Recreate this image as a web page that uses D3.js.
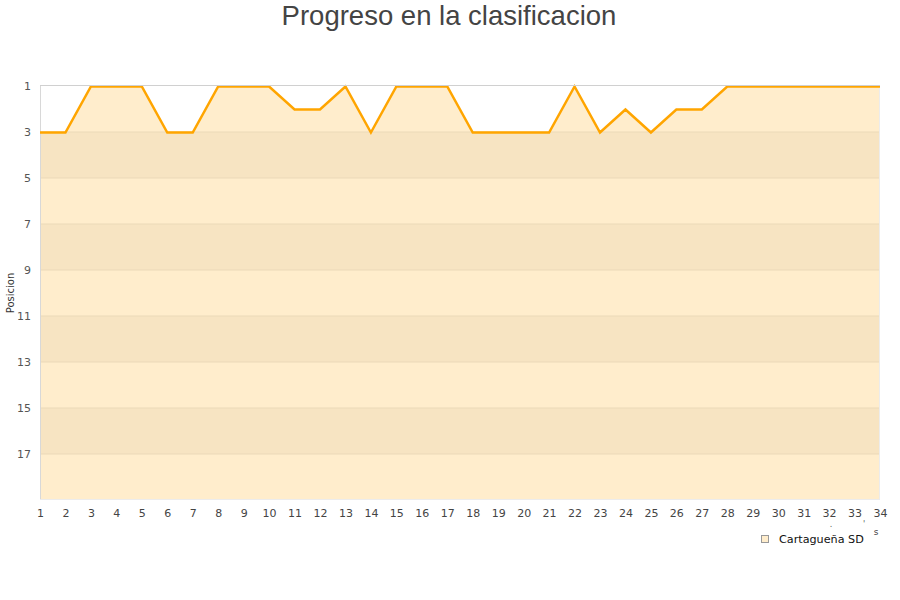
<!DOCTYPE html>
<html><head><meta charset="utf-8">
<script src="https://cdn.jsdelivr.net/npm/d3@7"></script>
<style>body{margin:0;background:#fff;font-family:"DejaVu Sans",sans-serif}</style>
</head><body>
<svg id="c" width="900" height="600"></svg>
<script>
const rounds = d3.range(1, 35);
const positions = [3,3,1,1,1,3,3,1,1,1,2,2,1,3,1,1,1,3,3,3,3,1,3,2,3,2,2,1,1,1,1,1,1,1];
const yTicks = [1,3,5,7,9,11,13,15,17];
const bands = [[3,5],[7,9],[11,13],[15,17]];
const seriesName = "Cartagueña SD";
const title = "Progreso en la clasificacion";
const yTitle = "Posicion";

const svg = d3.select("#c");
const L = 40, R = 880, T = 86, B = 500;
const x = d3.scaleLinear().domain([1, 34]).range([L, R]);
const y = d3.scaleLinear().domain([1, 19]).range([T, B]);
const data = rounds.map((r, i) => ({r, p: positions[i]}));

svg.append("text").attr("x", 449).attr("y", 25).attr("text-anchor", "middle")
  .attr("font-family", "Liberation Sans, Arial, sans-serif").attr("font-size", 27.5).attr("fill", "#444").text(title);

// area
svg.append("path").datum(data)
  .attr("d", d3.area().x(d => x(d.r)).y0(y(19)).y1(d => y(d.p)))
  .attr("fill", "#FFEDCC");
// bands
svg.selectAll(".band").data(bands).join("rect")
  .attr("x", L).attr("width", R - L)
  .attr("y", d => y(d[0])).attr("height", d => y(d[1]) - y(d[0]))
  .attr("fill", "#F7E4C2");
// grid
svg.selectAll(".grid").data(yTicks.slice(1)).join("line")
  .attr("x1", L).attr("x2", R).attr("y1", d => y(d)).attr("y2", d => y(d))
  .attr("stroke", "#EBD9B8").attr("stroke-width", 1);
svg.append("line").attr("x1", L + 0.5).attr("x2", L + 0.5).attr("y1", T).attr("y2", B)
  .attr("stroke", "#d8d8d8");
svg.append("line").attr("x1", R - 0.5).attr("x2", R - 0.5).attr("y1", T).attr("y2", B)
  .attr("stroke", "#ececec");
svg.append("line").attr("x1", L).attr("x2", R).attr("y1", B - 0.5).attr("y2", B - 0.5)
  .attr("stroke", "#ececec");

// line
svg.append("path").datum(data)
  .attr("d", d3.line().x(d => x(d.r)).y(d => y(d.p) + 0.5))
  .attr("fill", "none").attr("stroke", "#FFA500").attr("stroke-width", 2.5);
svg.append("line").attr("x1", L).attr("x2", R).attr("y1", y(1) - 0.5).attr("y2", y(1) - 0.5)
  .attr("stroke", "#d0d0d0");

// y axis
const yAxis = d3.axisLeft(y).tickValues(yTicks).tickSize(0).tickPadding(9);
const gy = svg.append("g").attr("transform", `translate(${L},0)`).call(yAxis);
gy.select(".domain").remove();
gy.selectAll("text").attr("font-size", 11).attr("fill", "#555").attr("font-family", "DejaVu Sans, sans-serif");

// x axis
const xAxis = d3.axisBottom(x).tickValues(rounds).tickSize(0).tickPadding(9).tickFormat(d3.format("d"));
const gx = svg.append("g").attr("transform", `translate(0,${B})`).call(xAxis);
gx.select(".domain").remove();
gx.selectAll("text").attr("font-size", 11).attr("fill", "#444").attr("font-family", "DejaVu Sans, sans-serif");

svg.append("text").attr("transform", "translate(14,293) rotate(-90)").attr("text-anchor", "middle")
  .attr("font-size", 10).attr("fill", "#333").text(yTitle);

// stray marks
svg.append("text").attr("x", 831).attr("y", 527).attr("font-size", 8).attr("fill", "#555").attr("text-anchor", "middle").text(".");
svg.append("text").attr("x", 864).attr("y", 527).attr("font-size", 8).attr("fill", "#555").attr("text-anchor", "middle").text("'");
svg.append("text").attr("x", 876).attr("y", 535).attr("font-size", 9).attr("fill", "#444").attr("text-anchor", "middle").text("s");

// legend
svg.append("rect").attr("x", 761.5).attr("y", 535.5).attr("width", 7).attr("height", 7)
  .attr("fill", "#FFEDCC").attr("stroke", "#999");
svg.append("text").attr("x", 779).attr("y", 543).attr("font-size", 11.2).attr("fill", "#111").text(seriesName);
</script>
</body></html>
